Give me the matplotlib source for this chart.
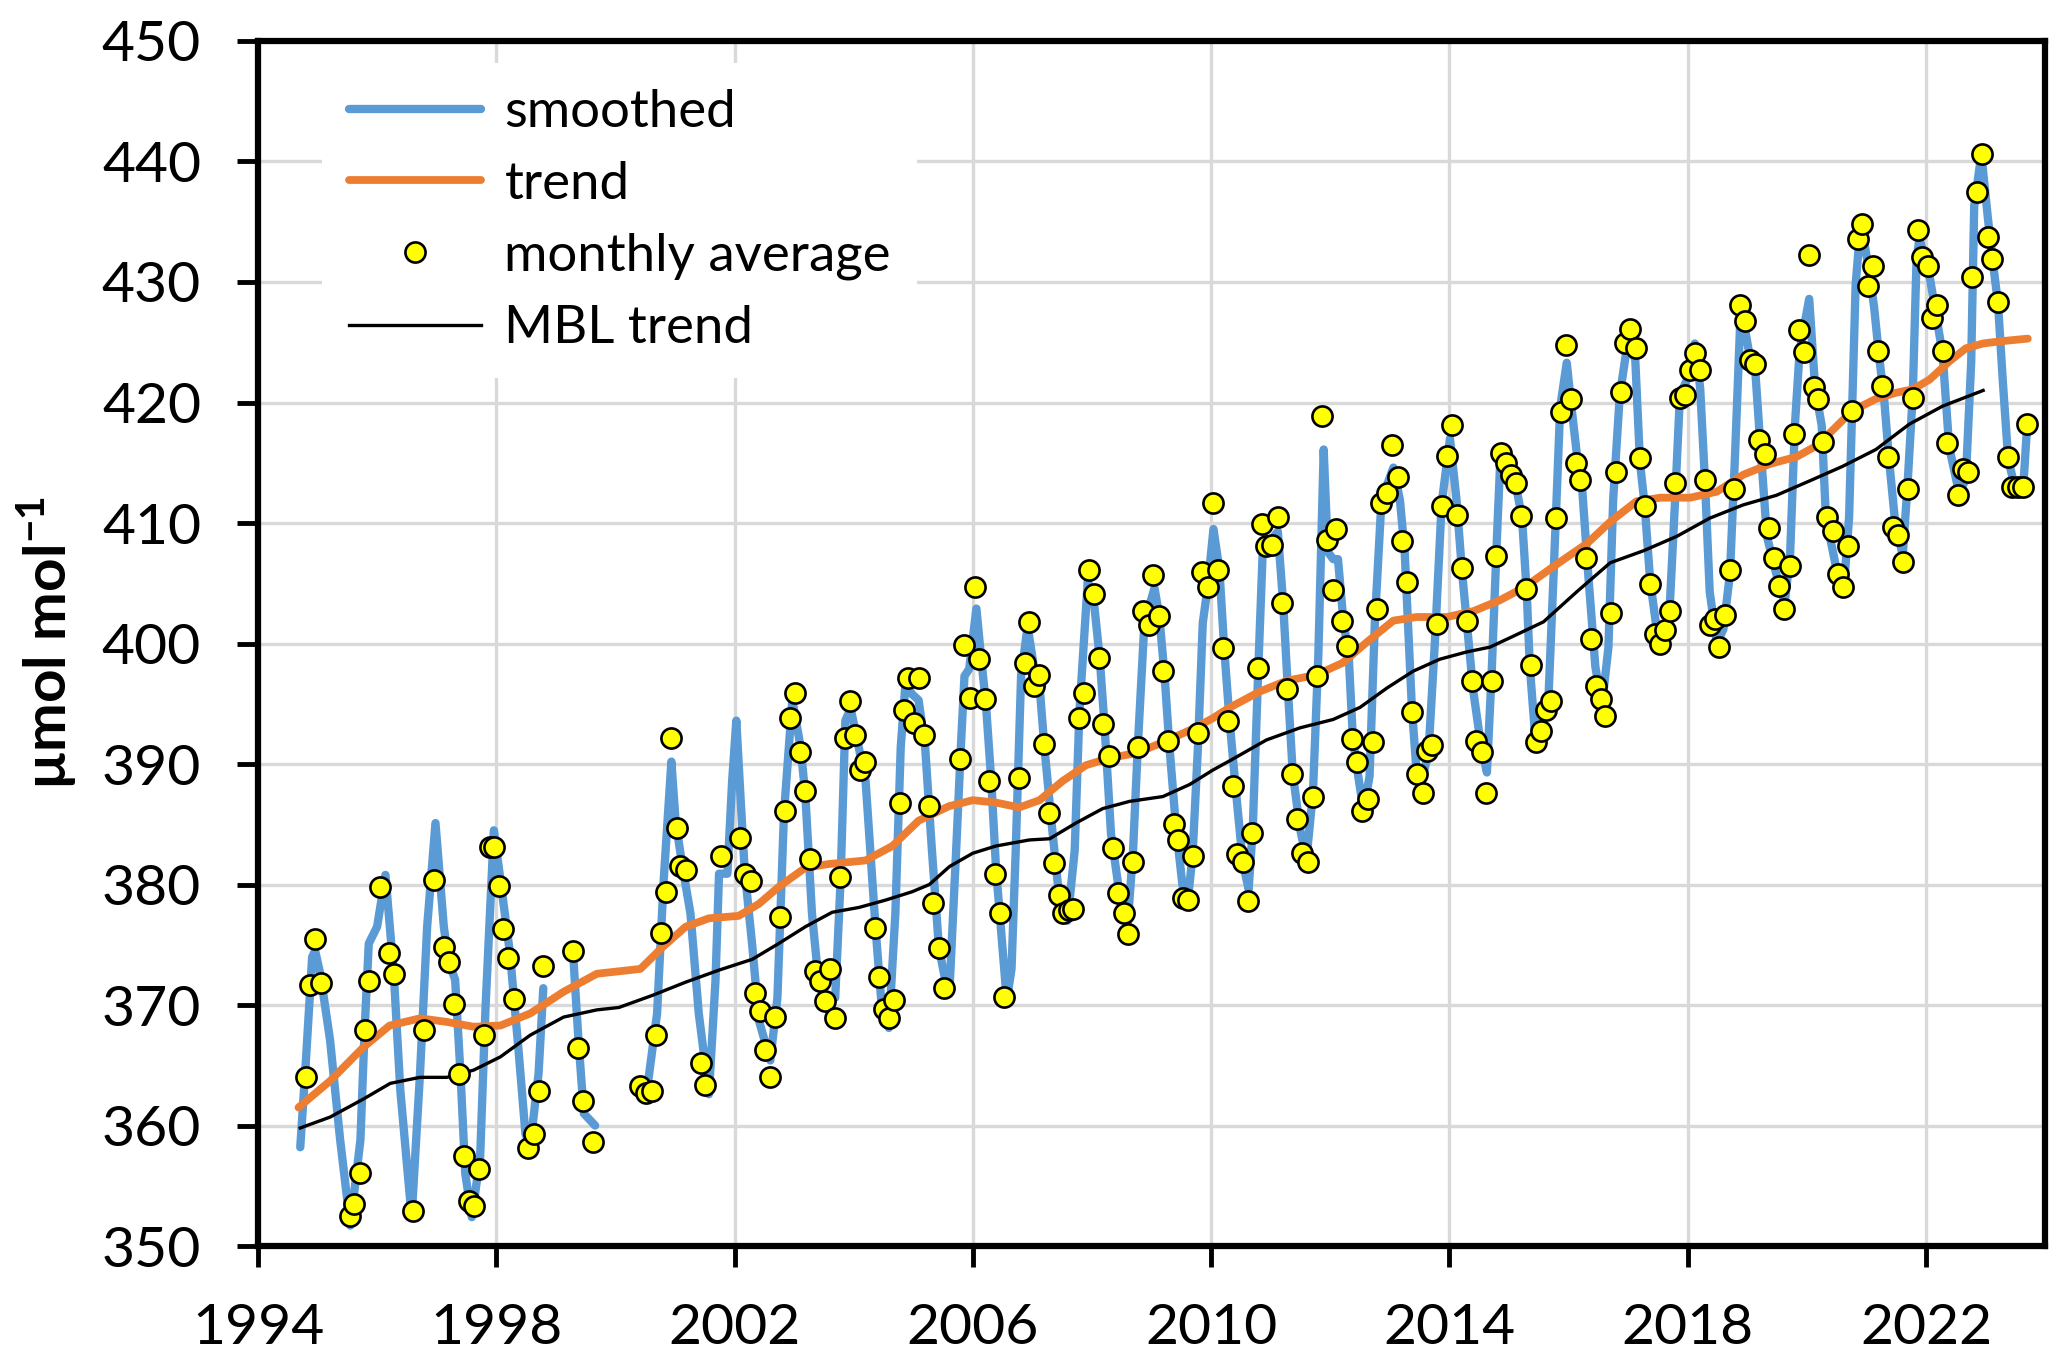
import matplotlib
matplotlib.use("Agg")
import matplotlib.pyplot as plt
import numpy as np

plt.rcParams['font.family'] = ['Lato', 'DejaVu Sans']
plt.rcParams['mathtext.fontset'] = 'custom'
plt.rcParams['mathtext.rm'] = 'Lato:bold'
plt.rcParams['mathtext.it'] = 'Lato:bold:italic'
plt.rcParams['mathtext.bf'] = 'Lato:bold'

# monthly averages (decimal year, umol/mol)
monthly_year = [
    1994.80, 1994.87, 1994.96, 1995.05, 1995.55, 1995.62, 1995.71, 1995.79, 1995.87,
    1996.05, 1996.20, 1996.29, 1996.61, 1996.79, 1996.95, 1997.12, 1997.21, 1997.29,
    1997.37, 1997.46, 1997.54, 1997.63, 1997.71, 1997.79, 1997.89, 1997.97, 1998.04,
    1998.12, 1998.20, 1998.30, 1998.54, 1998.63, 1998.71, 1998.79, 1999.29, 1999.37,
    1999.45, 1999.63,
    2000.42, 2000.51, 2000.61, 2000.69, 2000.77, 2000.85, 2000.94, 2001.03, 2001.09,
    2001.19, 2001.44, 2001.51, 2001.78, 2002.10, 2002.18, 2002.27, 2002.34, 2002.43,
    2002.51, 2002.60, 2002.68, 2002.77, 2002.84, 2002.93, 2003.02, 2003.10, 2003.19,
    2003.26, 2003.35, 2003.44, 2003.52, 2003.60, 2003.68, 2003.77, 2003.85, 2003.93,
    2004.02, 2004.10, 2004.19, 2004.35, 2004.43, 2004.51, 2004.59, 2004.68, 2004.77,
    2004.84, 2004.91, 2005.01, 2005.09, 2005.18, 2005.26, 2005.34, 2005.43, 2005.51,
    2005.79, 2005.86, 2005.96, 2006.03, 2006.11, 2006.21, 2006.28, 2006.37, 2006.45,
    2006.53, 2006.78, 2006.87, 2006.95, 2007.02, 2007.11, 2007.20, 2007.28, 2007.37,
    2007.44, 2007.51, 2007.61, 2007.69, 2007.78, 2007.86, 2007.95, 2008.03, 2008.11,
    2008.19, 2008.28, 2008.36, 2008.44, 2008.53, 2008.61, 2008.69, 2008.78, 2008.85,
    2008.95, 2009.03, 2009.12, 2009.20, 2009.28, 2009.37, 2009.44, 2009.52, 2009.61,
    2009.69, 2009.78, 2009.85, 2009.94, 2010.03, 2010.11,
    2010.20, 2010.28, 2010.36, 2010.44, 2010.53, 2010.62, 2010.69, 2010.79, 2010.86,
    2010.93, 2011.03, 2011.12, 2011.19, 2011.27, 2011.36, 2011.45, 2011.53, 2011.62,
    2011.71, 2011.78, 2011.86, 2011.95, 2012.04, 2012.10, 2012.20, 2012.28, 2012.37,
    2012.45, 2012.54, 2012.63, 2012.71, 2012.79, 2012.86, 2012.95, 2013.04, 2013.13,
    2013.21, 2013.29, 2013.38, 2013.46, 2013.55, 2013.62, 2013.71, 2013.79, 2013.87,
    2013.96, 2014.04, 2014.13, 2014.21, 2014.29, 2014.38, 2014.45, 2014.54, 2014.61,
    2014.71, 2014.78, 2014.86, 2014.95, 2015.03, 2015.12, 2015.20,
    2015.29, 2015.37, 2015.46, 2015.54, 2015.62, 2015.71, 2015.79, 2015.87, 2015.96,
    2016.04, 2016.13, 2016.20, 2016.29, 2016.37, 2016.46, 2016.54, 2016.62, 2016.71,
    2016.79, 2016.88, 2016.95, 2017.04, 2017.13, 2017.20, 2017.28, 2017.37, 2017.45,
    2017.54, 2017.62, 2017.70, 2017.79, 2017.87, 2017.96, 2018.04, 2018.12, 2018.20,
    2018.29, 2018.37, 2018.46, 2018.53, 2018.63, 2018.71, 2018.78, 2018.88, 2018.96,
    2019.05, 2019.13, 2019.20, 2019.29, 2019.37, 2019.45, 2019.54, 2019.62, 2019.71,
    2019.78, 2019.87, 2019.95, 2020.04,
    2020.12, 2020.19, 2020.27, 2020.34, 2020.44, 2020.53, 2020.60, 2020.69, 2020.76,
    2020.86, 2020.93, 2021.03, 2021.11, 2021.19, 2021.27, 2021.36, 2021.44, 2021.53,
    2021.62, 2021.70, 2021.78, 2021.86, 2021.94, 2022.03, 2022.10, 2022.19, 2022.28,
    2022.35, 2022.53, 2022.62, 2022.70, 2022.78, 2022.86, 2022.94, 2023.04, 2023.11,
    2023.21, 2023.37, 2023.45, 2023.54, 2023.63, 2023.70,
]
monthly_co2 = [
    364.0, 371.7, 375.5, 371.8, 352.5, 353.5, 356.1, 367.9, 372.0,
    379.8, 374.3, 372.6, 352.9, 367.9, 380.4, 374.8, 373.6, 370.1,
    364.3, 357.5, 353.7, 353.3, 356.4, 367.5, 383.1, 383.1, 379.9,
    376.3, 373.9, 370.5, 358.1, 359.3, 362.9, 373.2, 374.5, 366.4,
    362.0, 358.6,
    363.3, 362.7, 362.9, 367.5, 376.0, 379.4, 392.2, 384.7, 381.5,
    381.2, 365.2, 363.4, 382.4, 383.9, 380.9, 380.3, 371.0, 369.5,
    366.3, 364.0, 369.0, 377.3, 386.1, 393.8, 395.9, 391.0, 387.8,
    382.1, 372.8, 372.0, 370.3, 373.0, 368.9, 380.6, 392.2, 395.2,
    392.4, 389.5, 390.2, 376.4, 372.3, 369.7, 368.9, 370.4, 386.8,
    394.5, 397.1, 393.4, 397.1, 392.4, 386.5, 378.5, 374.7, 371.4,
    390.4, 399.9, 395.5, 404.7, 398.7, 395.4, 388.6, 380.9, 377.6,
    370.7, 388.8, 398.4, 401.8, 396.5, 397.4, 391.7, 385.9, 381.8,
    379.1, 377.6, 377.9, 378.0, 393.8, 395.9, 406.1, 404.1, 398.8,
    393.3, 390.7, 383.0, 379.3, 377.6, 375.9, 381.9, 391.4, 402.7,
    401.5, 405.7, 402.3, 397.7, 391.9, 385.0, 383.7, 378.9, 378.7,
    382.4, 392.6, 405.9, 404.7, 411.7, 406.1,
    399.6, 393.6, 388.2, 382.5, 381.9, 378.6, 384.3, 398.0, 409.9,
    408.1, 408.2, 410.5, 403.4, 396.2, 389.2, 385.4, 382.6, 381.9,
    387.3, 397.3, 418.9, 408.6, 404.4, 409.5, 401.9, 399.8, 392.1,
    390.2, 386.1, 387.1, 391.8, 402.9, 411.7, 412.5, 416.5, 413.8,
    408.5, 405.1, 394.3, 389.2, 387.6, 391.1, 391.6, 401.6, 411.4,
    415.6, 418.1, 410.7, 406.3, 401.9, 396.9, 391.9, 391.0, 387.6,
    396.9, 407.3, 415.8, 415.0, 414.0, 413.3, 410.6,
    404.5, 398.2, 391.8, 392.7, 394.5, 395.2, 410.4, 419.2, 424.8,
    420.3, 415.0, 413.6, 407.1, 400.4, 396.5, 395.4, 394.0, 402.5,
    414.2, 420.9, 424.9, 426.1, 424.5, 415.4, 411.4, 404.9, 400.8,
    400.0, 401.1, 402.7, 413.3, 420.4, 420.6, 422.7, 424.1, 422.7,
    413.6, 401.5, 402.0, 399.7, 402.4, 406.1, 412.8, 428.1, 426.8,
    423.5, 423.2, 416.9, 415.7, 409.6, 407.1, 404.8, 402.9, 406.4,
    417.4, 426.0, 424.2, 432.2,
    421.3, 420.3, 416.7, 410.5, 409.3, 405.8, 404.7, 408.1, 419.3,
    433.6, 434.8, 429.7, 431.3, 424.3, 421.4, 415.5, 409.7, 409.0,
    406.8, 412.8, 420.4, 434.3, 432.1, 431.3, 427.0, 428.1, 424.3,
    416.6, 412.3, 414.5, 414.2, 430.4, 437.5, 440.6, 433.7, 431.9,
    428.3, 415.5, 413.0, 413.0, 413.0, 418.2,
]

# smoothed curve, read at its turning points and flanks (None = gap)
smoothed_year = [
    1994.71, 1994.80, 1994.91, 1994.96, 1995.05, 1995.21, 1995.38, 1995.55, 1995.72,
    1995.79, 1995.86, 1996.00, 1996.14, 1996.28, 1996.39, 1996.58, 1996.72, 1996.84,
    1996.98, 1997.12, 1997.20, 1997.31, 1997.40, 1997.48, 1997.59, 1997.73, 1997.82,
    1997.96, 1998.07, 1998.23, 1998.37, 1998.49, 1998.57, 1998.71, 1998.79, 1999.00,
    1999.29, 1999.38, 1999.47, 1999.66, 2000.10,
    2000.53, 2000.70, 2000.81, 2000.94, 2001.01, 2001.12, 2001.26, 2001.40, 2001.57,
    2001.68, 2001.74, 2001.88, 2001.96, 2002.03, 2002.10, 2002.17, 2002.30, 2002.41,
    2002.60, 2002.72, 2002.83, 2002.97, 2003.11, 2003.19, 2003.30, 2003.41, 2003.55,
    2003.69, 2003.78, 2003.86, 2003.95, 2004.06, 2004.20, 2004.37, 2004.48, 2004.59,
    2004.70, 2004.79, 2004.87, 2004.98, 2005.09, 2005.20, 2005.31, 2005.43, 2005.54,
    2005.61, 2005.72, 2005.80, 2005.86, 2005.94, 2006.06, 2006.14, 2006.22, 2006.31,
    2006.39, 2006.57, 2006.65, 2006.72, 2006.81, 2006.92, 2007.03, 2007.12, 2007.20,
    2007.31, 2007.43, 2007.59, 2007.71, 2007.79, 2007.93, 2008.04, 2008.13, 2008.21,
    2008.32, 2008.46, 2008.60, 2008.69, 2008.77, 2008.88, 2009.05, 2009.13, 2009.22,
    2009.30, 2009.41, 2009.52, 2009.61, 2009.69, 2009.78, 2009.86, 2009.94, 2010.04,
    2010.14, 2010.22, 2010.31, 2010.42, 2010.53, 2010.63, 2010.70, 2010.79, 2010.87,
    2010.98, 2011.12, 2011.21, 2011.29, 2011.37, 2011.49, 2011.60, 2011.71, 2011.80,
    2011.89, 2011.96, 2012.05, 2012.13, 2012.22, 2012.31, 2012.38, 2012.47, 2012.56,
    2012.66, 2012.75, 2012.86, 2013.06, 2013.17, 2013.25, 2013.37, 2013.45, 2013.53,
    2013.65, 2013.76, 2013.87, 2014.01, 2014.12, 2014.21, 2014.29, 2014.40, 2014.52,
    2014.63, 2014.71, 2014.80, 2014.85, 2014.96, 2015.11, 2015.22, 2015.30, 2015.35,
    2015.44, 2015.55, 2015.66, 2015.75, 2015.86, 2015.97, 2016.05, 2016.14, 2016.22,
    2016.33, 2016.45, 2016.56, 2016.67, 2016.75, 2016.86, 2016.99, 2017.12, 2017.20,
    2017.28, 2017.37, 2017.48, 2017.56, 2017.68, 2017.79, 2017.87, 2017.98, 2018.12,
    2018.21, 2018.29, 2018.37, 2018.49, 2018.60, 2018.71, 2018.79, 2018.88, 2018.93,
    2019.05, 2019.13, 2019.21, 2019.33, 2019.44, 2019.55, 2019.63, 2019.72, 2019.80,
    2019.88, 2020.04, 2020.14, 2020.25, 2020.32, 2020.48, 2020.62, 2020.71, 2020.76,
    2020.82, 2020.88, 2020.96, 2021.04, 2021.13, 2021.21, 2021.30, 2021.38, 2021.48,
    2021.61, 2021.69, 2021.78, 2021.84, 2021.89, 2021.97, 2022.06, 2022.17, 2022.28,
    2022.39, 2022.56, 2022.67, 2022.76, 2022.81, 2022.93, 2023.04, 2023.12, 2023.21,
    2023.29, 2023.38, 2023.52, 2023.63, 2023.70,
]
smoothed_co2 = [
    358.2, 365.0, 374.0, 374.5, 372.5, 367.1, 358.8, 351.7, 358.8,
    367.9, 375.1, 376.5, 380.8, 372.6, 362.9, 352.4, 364.3, 376.5,
    385.1, 376.5, 373.6, 372.1, 364.3, 356.0, 352.4, 357.4, 369.8,
    384.5, 380.4, 374.3, 366.5, 359.3, 358.3, 364.3, 371.4, None,
    374.3, 367.1, 361.0, 360.0, None,
    362.9, 369.3, 380.3, 390.2, 385.3, 381.7, 377.6, 369.3, 362.6,
    372.0, 380.9, 380.9, 388.6, 393.6, 387.3, 381.2, 374.8, 368.7,
    365.4, 370.6, 385.9, 395.3, 391.4, 387.3, 377.6, 372.0, 370.0,
    370.6, 380.3, 393.6, 394.6, 392.0, 388.6, 376.2, 369.3, 368.1,
    377.6, 391.4, 396.7, 395.8, 395.3, 391.4, 383.1, 374.8, 372.0,
    371.4, 382.8, 391.5, 397.3, 397.9, 402.9, 398.8, 395.0, 388.6,
    381.3, 370.4, 373.0, 382.8, 397.3, 401.4, 397.9, 396.5, 391.5,
    385.7, 379.9, 377.0, 382.8, 394.4, 405.2, 403.1, 398.8, 393.3,
    384.2, 379.3, 376.7, 382.8, 391.5, 401.7, 404.6, 402.3, 397.3,
    391.5, 384.8, 379.9, 378.7, 382.5, 391.5, 401.7, 404.6, 409.5,
    406.1, 399.6, 393.6, 387.6, 381.9, 379.6, 384.7, 397.6, 408.1,
    408.4, 409.3, 403.3, 396.1, 389.3, 384.7, 382.1, 387.6, 399.0,
    416.1, 407.6, 407.0, 407.0, 401.9, 399.0, 392.1, 389.0, 386.1,
    389.0, 401.9, 411.9, 414.6, 411.9, 407.6, 394.7, 389.3, 388.4,
    391.0, 400.4, 411.6, 417.0, 411.9, 406.1, 401.9, 396.1, 391.9,
    389.3, 397.6, 409.0, 414.7, 414.4, 413.3, 410.4, 404.1, 398.1,
    392.3, 393.5, 395.1, 405.8, 419.6, 423.3, 419.6, 415.7, 413.5,
    405.8, 398.1, 394.8, 399.7, 412.0, 420.6, 424.9, 423.6, 415.0,
    411.4, 405.2, 401.2, 400.4, 401.2, 412.0, 420.6, 421.8, 424.9,
    421.2, 413.5, 404.3, 400.0, 401.2, 405.8, 415.0, 426.4, 427.0,
    423.6, 423.0, 417.2, 408.9, 406.7, 404.6, 403.4, 407.4, 418.1,
    424.3, 428.6, 421.2, 418.1, 410.5, 406.6, 404.4, 410.5, 419.2,
    429.8, 433.4, 433.4, 431.1, 427.9, 424.0, 420.2, 415.3, 410.2,
    407.3, 413.1, 420.8, 431.5, 433.7, 432.1, 430.5, 427.3, 424.0,
    416.3, 412.4, 413.7, 423.4, 436.3, 440.6, 435.3, 431.8, 428.2,
    421.8, 415.3, 412.4, 412.7, 418.2,
]

trend_year = [
    1994.68, 1995.21, 1995.77, 1996.21, 1996.72, 1997.17, 1997.62, 1998.07, 1998.57,
    1999.13, 1999.69, 2000.06, 2000.42, 2000.79, 2001.18, 2001.57, 2002.07, 2002.41,
    2002.74, 2003.19, 2003.58, 2004.20, 2004.65, 2005.09, 2005.60, 2006.00, 2006.39,
    2006.78, 2007.12, 2007.51, 2007.90, 2008.29, 2008.74, 2009.19, 2009.64, 2010.03,
    2010.28, 2010.81, 2011.26, 2011.77, 2012.21, 2012.61, 2013.06, 2013.45, 2013.96,
    2014.41, 2014.85, 2015.27, 2015.75, 2016.31, 2016.70, 2017.14, 2017.54, 2018.04,
    2018.49, 2018.93, 2019.38, 2019.83, 2020.16, 2020.37, 2020.76, 2021.16, 2021.49,
    2021.78, 2022.06, 2022.39, 2022.67, 2022.96, 2023.29, 2023.71,
]
trend_co2 = [
    361.5, 363.7, 366.5, 368.3, 368.9, 368.6, 368.2, 368.3, 369.3,
    371.1, 372.6, 372.8, 373.0, 374.8, 376.5, 377.2, 377.4, 378.4,
    379.8, 381.4, 381.7, 382.0, 383.2, 385.3, 386.5, 387.0, 386.8,
    386.4, 387.0, 388.6, 389.9, 390.5, 390.9, 391.8, 392.8, 393.8,
    394.6, 396.0, 396.9, 397.4, 398.4, 400.1, 401.9, 402.2, 402.2,
    402.7, 403.6, 404.7, 406.4, 408.3, 410.1, 411.8, 412.1, 412.1,
    412.6, 414.0, 414.9, 415.5, 416.4, 417.4, 419.3, 420.3, 420.8,
    421.1, 421.9, 423.4, 424.5, 424.9, 425.1, 425.3,
]

mbl_year = [
    1994.71, 1995.21, 1995.77, 1996.22, 1996.72, 1997.17, 1997.62, 1998.07, 1998.57,
    1999.13, 1999.69, 2000.06, 2000.62, 2001.18, 2001.74, 2002.30, 2002.74, 2003.19,
    2003.64, 2004.09, 2004.53, 2004.98, 2005.27, 2005.61, 2006.00, 2006.39, 2006.95,
    2007.29, 2007.73, 2008.18, 2008.63, 2009.19, 2009.64, 2010.03, 2010.36, 2010.93,
    2011.49, 2012.05, 2012.50, 2012.95, 2013.39, 2013.84, 2014.29, 2014.68, 2015.07,
    2015.58, 2016.14, 2016.70, 2017.26, 2017.82, 2018.37, 2018.93, 2019.49, 2020.05,
    2020.60, 2021.16, 2021.72, 2022.28, 2022.96,
]
mbl_co2 = [
    359.8, 360.7, 362.2, 363.5, 364.0, 364.0, 364.6, 365.7, 367.5,
    369.0, 369.6, 369.8, 370.8, 371.9, 372.9, 373.8, 375.1, 376.5,
    377.7, 378.1, 378.7, 379.4, 380.0, 381.5, 382.6, 383.2, 383.7,
    383.8, 385.1, 386.3, 386.9, 387.3, 388.3, 389.5, 390.4, 392.0,
    393.0, 393.7, 394.7, 396.3, 397.7, 398.7, 399.3, 399.7, 400.6,
    401.8, 404.3, 406.7, 407.7, 408.9, 410.4, 411.5, 412.3, 413.5,
    414.7, 416.1, 418.2, 419.7, 421.0,
]

x_ticks = [1994, 1998, 2002, 2006, 2010, 2014, 2018, 2022]
y_ticks = [350, 360, 370, 380, 390, 400, 410, 420, 430, 440, 450]

fig = plt.figure(figsize=(20.67, 13.66), dpi=100)
ax = fig.add_axes([0.1248, 0.0878, 0.8646, 0.8822])

smooth_y = np.array([np.nan if v is None else v for v in smoothed_co2])
ax.plot(smoothed_year, smooth_y, color='#5B9BD5', lw=6,
        solid_capstyle='round', solid_joinstyle='round', label='smoothed', zorder=2)
ax.plot(trend_year, trend_co2, color='#ED7D31', lw=5.6,
        solid_capstyle='round', solid_joinstyle='round', label='trend', zorder=2.2)
ax.plot(monthly_year, monthly_co2, ls='none', marker='o', ms=14.5,
        mfc='#FFFF00', mec='black', mew=1.9, label='monthly average', zorder=3)
ax.plot(mbl_year, mbl_co2, color='black', lw=2.4, label='MBL trend', zorder=2.4)

ax.set_xlim(1994, 2024)
ax.set_ylim(350, 450)
ax.set_xticks(x_ticks)
ax.set_yticks(y_ticks)
ax.grid(color='#d9d9d9', lw=2.4)
ax.set_axisbelow(True)
for side in ax.spines.values():
    side.set_linewidth(4.5)
ax.tick_params(direction='out', length=15, width=3.5, labelsize=41, pad=26)

fig.text(47 / 2067, 1 - 643 / 1366, 'µmol mol$^{-1}$', rotation=90,
         ha='center', va='center', fontsize=42, fontweight='bold')

handles, labels = ax.get_legend_handles_labels()
leg = ax.legend(handles, labels, loc='upper left', bbox_to_anchor=(0.036, 0.982),
                borderaxespad=0, borderpad=0.5, fontsize=38, handlelength=2.5,
                handletextpad=0.45, labelspacing=0.47, numpoints=1,
                frameon=True, fancybox=False, framealpha=1, edgecolor='none')
leg.get_frame().set_facecolor('white')

fig.savefig('out.png', dpi=100)
